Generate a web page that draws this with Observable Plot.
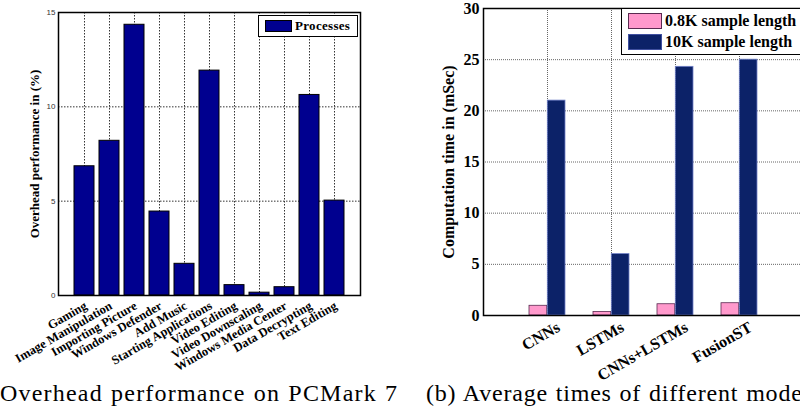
<!DOCTYPE html>
<html><head><meta charset="utf-8">
<script src="https://cdn.jsdelivr.net/npm/d3@7"></script>
<script src="https://cdn.jsdelivr.net/npm/@observablehq/plot@0.6"></script>
<style>
html,body{margin:0;padding:0;background:#fff;}
#page{position:relative;width:800px;height:418px;overflow:hidden;background:#fff;}
#left,#right{position:absolute;top:0;}
#left{left:0;width:400px;} #right{left:400px;width:440px;}
#page svg{max-width:none !important;}
.legend{position:absolute;box-sizing:border-box;background:#fff;border:1.5px solid #000;font-family:"Liberation Serif","Times New Roman",serif;font-weight:bold;color:#000;}
.sw{position:absolute;box-sizing:border-box;}
.lt{position:absolute;white-space:nowrap;line-height:1;}
.cap{position:absolute;top:381px;font-family:"Liberation Serif","Times New Roman",serif;font-size:24px;line-height:24px;white-space:nowrap;color:#000;word-spacing:1px;}
</style>
</head><body>
<div id="page">
  <div id="left"></div>
  <div id="right"></div>
  <div class="legend" style="left:258px;top:15px;width:100px;height:22px;">
    <div class="sw" style="left:6px;top:4px;width:27px;height:12px;background:#00008f;border:1px solid #000;"></div>
    <div class="lt" style="left:36px;top:3px;font-size:13px;letter-spacing:0.3px;">Processes</div>
  </div>
  <div class="legend" style="left:621px;top:8px;width:200px;height:47px;">
    <div class="sw" style="left:6px;top:4px;width:34px;height:16px;background:#ff99cc;border:1px solid #5a2a50;"></div>
    <div class="lt" style="left:43px;top:4px;font-size:16px;">0.8K sample length</div>
    <div class="sw" style="left:6px;top:25px;width:34px;height:16px;background:#0c2268;border:1px solid #4050a0;"></div>
    <div class="lt" style="left:43px;top:25px;font-size:16px;">10K sample length</div>
  </div>
  <div class="cap" style="left:0px;letter-spacing:1.2px;">Overhead performance on PCMark 7</div>
  <div class="cap" style="left:426px;letter-spacing:0.8px;">(b) Average times of different models</div>
</div>
<script>
// ---- Left chart data ----
const tasks = ["Gaming","Image Manipulation","Importing Picture","Windows Defender","Add Music","Starting Applications","Video Editing","Video Downscaling","Windows Media Center","Data Decrypting","Text Editing"];
const overhead = [6.85, 8.2, 14.35, 4.45, 1.68, 11.92, 0.55, 0.15, 0.44, 10.63, 5.03];
const overheadTicks = [0, 5, 10, 15];
const overheadLabel = "Overhead performance in (%)";

// ---- Right chart data ----
const models = ["CNNs","LSTMs","CNNs+LSTMs","FusionST"];
const time08K = [0.95, 0.35, 1.1, 1.2];
const time10K = [21.0, 6.0, 24.3, 25.0];
const timeTicks = [0, 5, 10, 15, 20, 25, 30];
const timeLabel = "Computation time in (mSec)";

const serif = "Liberation Serif, Times New Roman, serif";

const leftData = tasks.map((t, i) => ({task: t, value: overhead[i]}));
const left = Plot.plot({
  width: 400, height: 380,
  marginLeft: 58, marginRight: 40, marginTop: 12, marginBottom: 85,
  x: {type: "band", domain: tasks, paddingInner: 0.2, paddingOuter: 0.6, axis: null},
  y: {domain: [0, 15], axis: null},
  marks: [
    Plot.ruleY(overheadTicks.slice(1, -1), {stroke: "#333", strokeDasharray: "1.5,1.5"}),
    Plot.ruleX(tasks, {x: d => d, stroke: "#333", strokeDasharray: "1.5,1.5"}),
    Plot.barY(leftData, {x: "task", y: "value", fill: "#00008f", stroke: "#000", strokeWidth: 1}),
    Plot.frame({stroke: "#000", strokeWidth: 1.5}),
    Plot.text(overheadTicks, {y: d => d, text: d => String(d), frameAnchor: "left", textAnchor: "end", dx: -3, fontSize: 8, fontFamily: "Liberation Sans, Arial, sans-serif", fill: "#333"}),
    Plot.text(tasks, {x: d => d, text: d => d, frameAnchor: "bottom", rotate: -30, textAnchor: "end", lineAnchor: "top", dx: -1, dy: 5, fontSize: 12.5, fontWeight: "bold", fontFamily: serif}),
    Plot.text([overheadLabel], {text: d => d, frameAnchor: "left", rotate: -90, textAnchor: "middle", lineAnchor: "middle", dx: -24, fontSize: 13, fontWeight: "bold", fontFamily: serif})
  ]
});
document.getElementById("left").append(left);

const rightData08 = models.map((m, i) => ({model: m, value: time08K[i]}));
const rightData10 = models.map((m, i) => ({model: m, value: time10K[i]}));
const right = Plot.plot({
  width: 440, height: 380,
  marginLeft: 83, marginRight: 36, marginTop: 8, marginBottom: 65,
  x: {type: "band", domain: models, paddingInner: 0.43, paddingOuter: 0.715, axis: null},
  y: {domain: [0, 30], axis: null},
  marks: [
    Plot.ruleY(timeTicks.slice(1, -1), {stroke: "#666", strokeDasharray: "1,1"}),
    Plot.ruleX(models, {x: d => d, stroke: "#666", strokeDasharray: "1,1"}),
    Plot.barY(rightData08, {x: "model", y: "value", insetRight: 18.3, fill: "#ff99cc", stroke: "#5a2a50", strokeWidth: 0.8}),
    Plot.barY(rightData10, {x: "model", y: "value", insetLeft: 18.3, fill: "#0c2268", stroke: "#7080c8", strokeWidth: 0.8}),
    Plot.frame({stroke: "#000", strokeWidth: 1.5}),
    Plot.text(timeTicks, {y: d => d, text: d => String(d), frameAnchor: "left", textAnchor: "end", dx: -4, fontSize: 16, fontWeight: "bold", fontFamily: serif}),
    Plot.text(models, {x: d => d, text: d => d, frameAnchor: "bottom", rotate: -30, textAnchor: "end", lineAnchor: "top", dx: 8, dy: 5, fontSize: 16, fontWeight: "bold", fontFamily: serif}),
    Plot.text([timeLabel], {text: d => d, frameAnchor: "left", rotate: -90, textAnchor: "middle", lineAnchor: "middle", dx: -35, fontSize: 16, fontWeight: "bold", fontFamily: serif})
  ]
});
document.getElementById("right").append(right);
</script>
</body></html>
